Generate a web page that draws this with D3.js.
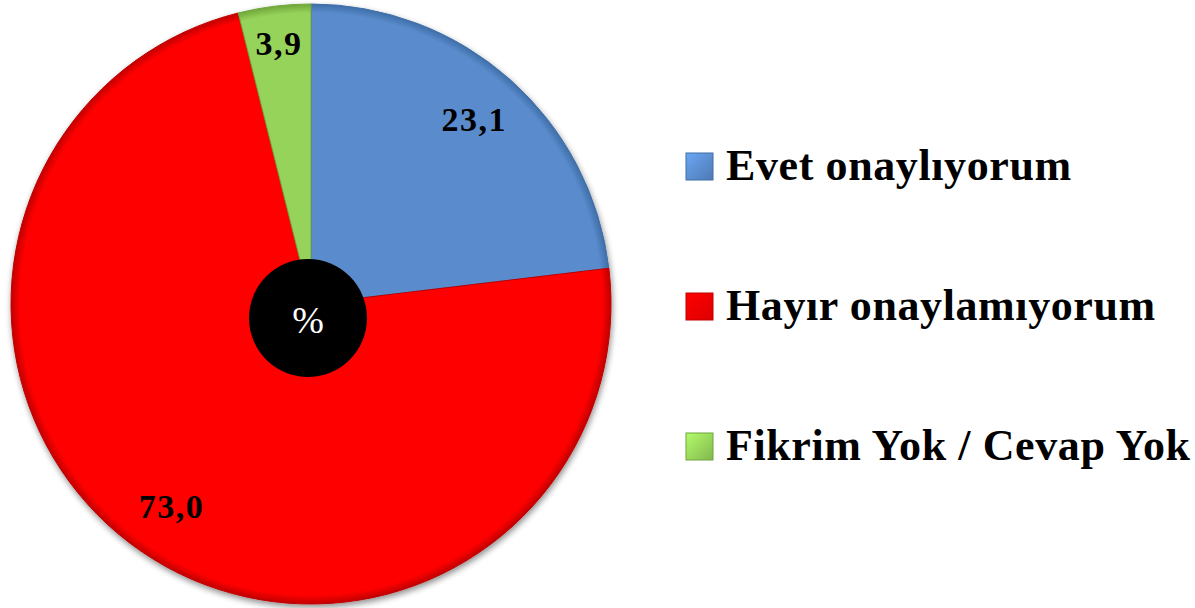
<!DOCTYPE html>
<html><head><meta charset="utf-8">
<script src="https://cdn.jsdelivr.net/npm/d3@7"></script>
<style>html,body{margin:0;padding:0;background:#fff;}svg{display:block;}</style>
</head><body>
<svg id="chart" width="1195" height="608"></svg>
<script>
const categories = ["Evet onaylıyorum", "Hayır onaylamıyorum", "Fikrim Yok / Cevap Yok"];
const values = [23.1, 73.0, 3.9];
const valueLabels = ["23,1", "73,0", "3,9"];
const colors = ["#5A8CCD", "#FF0000", "#96D35A"];
const darkColors = ["#3F6EA8", "#C00000", "#6FA63A"];

const svg = d3.select("#chart");
const cx = 311, cy = 304, R = 300;
const defs = svg.append("defs");

defs.append("filter").attr("id","shadow").attr("x","-10%").attr("y","-10%").attr("width","120%").attr("height","120%")
  .call(f => {
    f.append("feGaussianBlur").attr("in","SourceAlpha").attr("stdDeviation",3);
    f.append("feOffset").attr("dx",1).attr("dy",3).attr("result","b");
    f.append("feComponentTransfer").call(t=>t.append("feFuncA").attr("type","linear").attr("slope",0.45));
    f.append("feMerge").call(m=>{m.append("feMergeNode");m.append("feMergeNode").attr("in","SourceGraphic");});
  });

colors.forEach((c,i)=>{
  const g = defs.append("radialGradient").attr("id","g"+i).attr("gradientUnits","userSpaceOnUse")
    .attr("cx",0).attr("cy",0).attr("r",R);
  g.append("stop").attr("offset","0%").attr("stop-color",c);
  g.append("stop").attr("offset","97%").attr("stop-color",c);
  g.append("stop").attr("offset","100%").attr("stop-color",darkColors[i]);
  const lg = defs.append("linearGradient").attr("id","lg"+i).attr("x1","0").attr("y1","0").attr("x2","1").attr("y2","1");
  lg.append("stop").attr("offset","0%").attr("stop-color",d3.color(c).brighter(0.5));
  lg.append("stop").attr("offset","100%").attr("stop-color",d3.color(c).darker(0.4));
});

const pie = d3.pie().sort(null).value(d=>d)(values);
const arc = d3.arc().innerRadius(0).outerRadius(R);
const labelArc = d3.arc().innerRadius(246).outerRadius(246);
const labelArcSmall = d3.arc().innerRadius(262).outerRadius(262);

const g = svg.append("g").attr("transform",`translate(${cx},${cy})`);
g.append("g").attr("filter","url(#shadow)").selectAll("path").data(pie).join("path")
  .attr("d",arc)
  .attr("fill",(d,i)=>`url(#g${i})`)
  .attr("stroke",(d,i)=>darkColors[i]).attr("stroke-width",1);

g.selectAll("text.val").data(pie).join("text").attr("class","val")
  .attr("transform",(d,i)=>`translate(${(i===2?labelArcSmall:labelArc).centroid(d)})`)
  .attr("text-anchor","middle").attr("dominant-baseline","central")
  .style("font-family","'Liberation Serif', 'DejaVu Serif', serif").style("font-weight","bold")
  .style("font-size","34px").style("letter-spacing","1.5px").attr("fill","#000")
  .text((d,i)=>valueLabels[i]);

svg.append("circle").attr("cx",308).attr("cy",318).attr("r",59).attr("fill","#000");
svg.append("text").attr("x",308).attr("y",320).attr("text-anchor","middle").attr("dominant-baseline","central")
  .style("font-family","'Liberation Serif', 'DejaVu Serif', serif").style("font-size","38px")
  .attr("fill","#fff").text("%");

const legendY = d3.scalePoint().domain(categories).range([167, 447]);
const leg = svg.append("g").selectAll("g").data(categories).join("g")
  .attr("transform",d=>`translate(686,${legendY(d)})`);
leg.append("rect").attr("x",0).attr("y",-14).attr("width",27).attr("height",27)
  .attr("fill",(d,i)=>`url(#lg${i})`).attr("stroke",(d,i)=>darkColors[i]).attr("stroke-width",1);
leg.append("text").attr("x",40).attr("y",13)
  .style("font-family","'Liberation Serif', 'DejaVu Serif', serif").style("font-weight","bold")
  .style("font-size","44px").style("letter-spacing","0.6px").attr("fill","#000")
  .text(d=>d);
</script>
</body></html>
